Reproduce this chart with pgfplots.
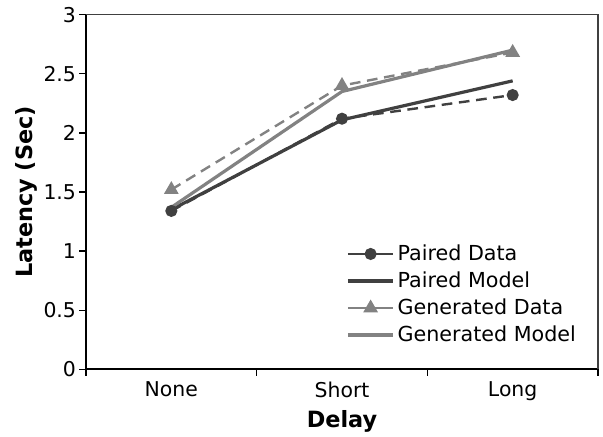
\documentclass[border=0pt]{standalone}
\usepackage{fontspec}
\setmainfont{DejaVu Sans}
\usepackage{pgfplots}
\pgfplotsset{compat=1.18}
\definecolor{pairedgray}{RGB}{64,64,64}
\definecolor{gengray}{RGB}{130,130,130}

\begin{document}
\begin{tikzpicture}
\begin{axis}[
    scale only axis,
    width=384pt, height=266pt,
    xmin=0.5, xmax=3.5,
    ymin=0, ymax=3,
    axis x line*=bottom,
    axis y line*=left,
    axis line style={black, line width=1.4pt},
    xtick={1,2,3},
    xticklabels={None, Short, Long},
    minor xtick={0.5,1.5,2.5,3.5},
    major x tick style={draw=none},
    minor x tick style={black, line width=1pt},
    minor tick length=5pt,
    ytick={0,0.5,...,3},
    ytick style={black, line width=1pt},
    major tick length=5pt,
    tick align=outside,
    yticklabel style={/pgf/number format/fixed, /pgf/number format/assume math mode=true,
        xshift=1pt},
    tick label style={font=\fontsize{15.3}{18}\selectfont},
    xticklabel style={yshift=-1pt},
    xlabel={\textbf{Delay}},
    ylabel={\textbf{Latency (Sec)}},
    label style={font=\fontsize{16.8}{19}\selectfont},
    xlabel style={at={(axis description cs:0.5,-0.147)}, anchor=center},
    ylabel style={at={(axis description cs:-0.116,0.5)}, anchor=center},
    legend style={
        at={(axis description cs:0.5,0.366)}, anchor=north west,
        draw=none, fill=none,
        font=\fontsize{15.5}{18}\selectfont,
        row sep=3pt,
        /tikz/every even column/.append style={column sep=1pt},
    },
    legend cell align=left,
    legend image code/.code={
        \draw[mark repeat=2, mark phase=2, #1]
            plot coordinates {(0cm,0cm) (0.6cm,0cm) (1.2cm,0cm)};
    },
    legend image post style={solid},
    after end axis/.code={
        \draw[pairedgray, line width=0.8pt] (rel axis cs:0,1) -- (rel axis cs:1,1) -- (rel axis cs:1,0);
        % page margins as in the reference
        \path (rel axis cs:0,0) ++(-64.5pt,-48.75pt);
        \path (rel axis cs:1,1) ++(3.75pt,11pt);
    },
]
\addplot[pairedgray, line width=1.8pt, dash pattern=on 8pt off 5pt,
    mark=*, mark size=3.6pt, mark options={solid}]
    coordinates {(1,1.34) (2,2.12) (3,2.32)};
\addlegendentry{Paired Data}
\addplot[pairedgray, line width=2.4pt, no marks]
    coordinates {(1,1.35) (2,2.11) (3,2.44)};
\addlegendentry{Paired Model}
\addplot[gengray, line width=1.8pt, dash pattern=on 8pt off 5pt,
    mark=triangle*, mark size=4.6pt, mark options={solid}]
    coordinates {(1,1.52) (2,2.40) (3,2.68)};
\addlegendentry{Generated Data}
\addplot[gengray, line width=2.4pt, no marks]
    coordinates {(1,1.37) (2,2.35) (3,2.70)};
\addlegendentry{Generated Model}
\end{axis}
\end{tikzpicture}
\end{document}
